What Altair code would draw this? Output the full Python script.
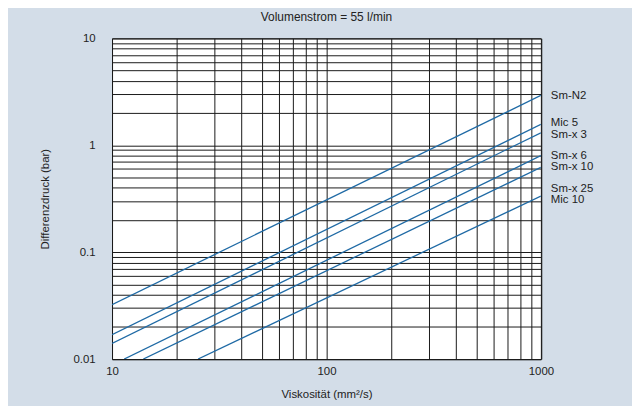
import altair as alt
import pandas as pd

# ---- data ----
series = ["Sm-N2", "Mic 5", "Sm-x 3", "Sm-x 6", "Sm-x 10", "Sm-x 25 / Mic 10"]
x_start = [10, 10, 10, 11.4, 14.0, 25.2]
y_start = [0.0323, 0.0169, 0.0140, 0.01, 0.01, 0.01]
x_end = [1000, 1000, 1000, 1000, 1000, 1000]
y_end = [2.93, 1.57, 1.31, 0.80, 0.62, 0.335]

labels = ["Sm-N2", "Mic 5", "Sm-x 3", "Sm-x 6", "Sm-x 10", "Sm-x 25", "Mic 10"]
label_x = [1000, 1000, 1000, 1000, 1000, 1000, 1000]
label_y = [2.91, 1.61, 1.255, 0.80, 0.627, 0.386, 0.307]

x_grid = [10, 20, 30, 40, 50, 60, 70, 80, 90,
          100, 200, 300, 400, 500, 600, 700, 800, 900, 1000]
y_grid = [0.01, 0.02, 0.03, 0.04, 0.05, 0.06, 0.07, 0.08, 0.09,
          0.1, 0.2, 0.3, 0.4, 0.5, 0.6, 0.7, 0.8, 0.9,
          1, 2, 3, 4, 5, 6, 7, 8, 9, 10]

rows = []
for s, xs, ys, xe, ye in zip(series, x_start, y_start, x_end, y_end):
    rows.append({"series": s, "x": xs, "y": ys, "o": 0})
    rows.append({"series": s, "x": xe, "y": ye, "o": 1})
line_df = pd.DataFrame(rows)
lab_df = pd.DataFrame({"label": labels, "x": label_x, "y": label_y})

FONT = "Liberation Sans"
BLUE = "#1f6aa5"
INK = "#222222"
GRID = "#1a1a1a"
FS = 11.5

decade_expr = ("abs(log(datum.value)/LN10 - round(log(datum.value)/LN10)) < 0.001"
               " ? format(datum.value, '~g') : ''")

x_scale = alt.Scale(type="log", domain=[10, 1000], nice=False)
y_scale = alt.Scale(type="log", domain=[0.01, 10], nice=False)

x_axis = alt.Axis(values=x_grid, labelExpr=decade_expr, ticks=False, domain=False,
                  grid=True, gridColor=GRID, gridWidth=1, gridOpacity=1,
                  labelFont=FONT, labelFontSize=FS, labelColor=INK,
                  labelPadding=7, labelFlush=False, labelOverlap=False,
                  title="Viskosität (mm²/s)", titleFont=FONT, titleFontSize=FS,
                  titleFontWeight="normal", titleColor=INK, titlePadding=11)
y_axis = alt.Axis(values=y_grid, labelExpr=decade_expr, ticks=False, domain=False,
                  grid=True, gridColor=GRID, gridWidth=1, gridOpacity=1,
                  labelFont=FONT, labelFontSize=FS, labelColor=INK,
                  labelPadding=17, labelFlush=False, labelOverlap=False,
                  title="Differenzdruck (bar)", titleFont=FONT, titleFontSize=FS,
                  titleFontWeight="normal", titleColor=INK, titlePadding=23)

lines = alt.Chart(line_df).mark_line(color=BLUE, strokeWidth=1.3, clip=True).encode(
    x=alt.X("x:Q", scale=x_scale, axis=x_axis),
    y=alt.Y("y:Q", scale=y_scale, axis=y_axis),
    detail="series:N",
    order="o:Q",
)

texts = alt.Chart(lab_df).mark_text(align="left", baseline="middle", dx=10,
                                    font=FONT, fontSize=FS, color=INK).encode(
    x=alt.X("x:Q", scale=x_scale),
    y=alt.Y("y:Q", scale=y_scale),
    text="label:N",
)

chart = alt.layer(lines, texts).properties(
    width=431.6,
    height=322.7,
    title=alt.TitleParams("Volumenstrom = 55 l/min", font=FONT, fontSize=12,
                          fontWeight="normal", color=INK, anchor="middle", offset=8),
    padding={"left": 104.7, "top": 29.3, "right": 91.7, "bottom": 46},
    autosize=alt.AutoSizeParams(type="none"),
    background="#d3dde8",
).configure_view(fill="white", stroke=GRID, strokeWidth=1)

chart.save("out.html", embed_options={"renderer": "svg", "actions": False})
